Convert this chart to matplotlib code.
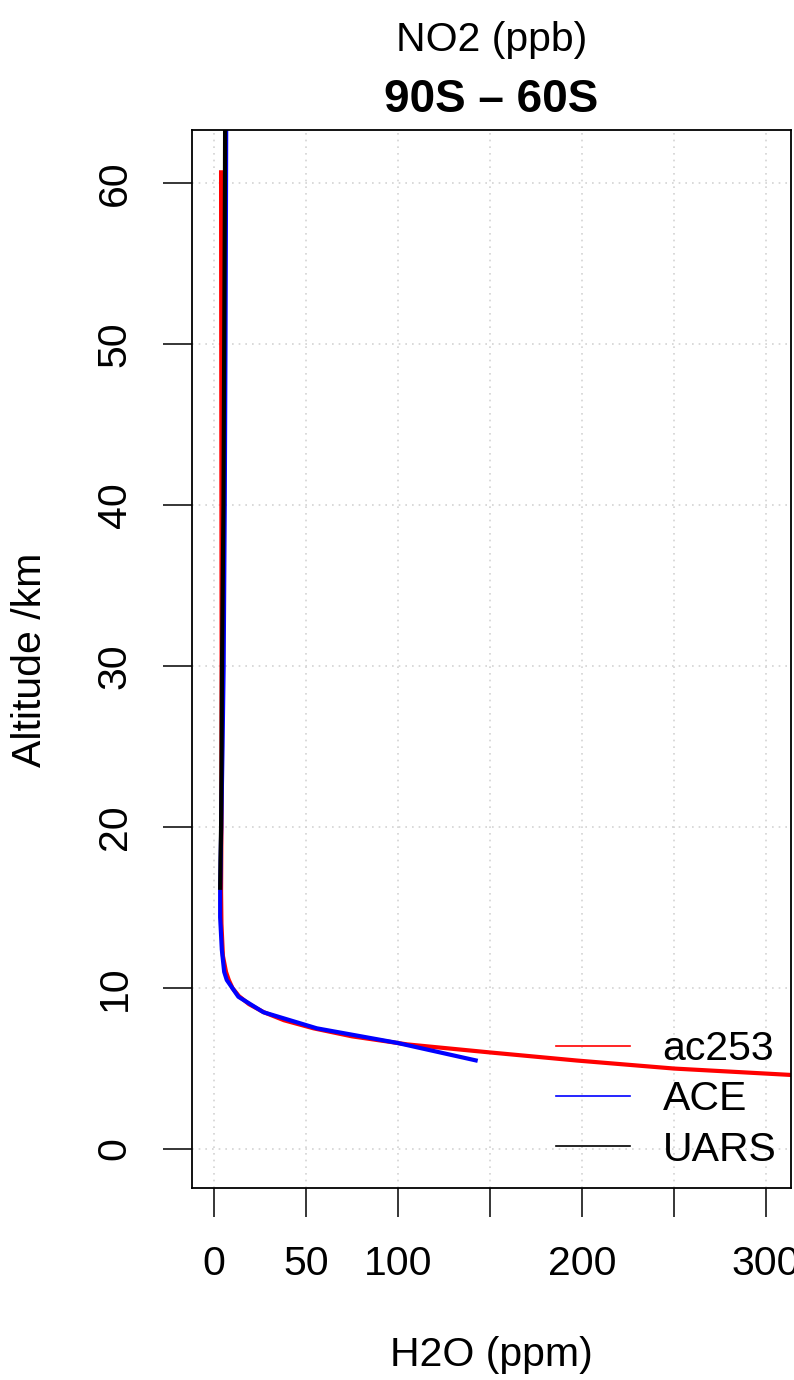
import matplotlib
matplotlib.use("Agg")
import matplotlib.pyplot as plt
from matplotlib.lines import Line2D

plt.rcParams['font.family'] = ['Liberation Sans', 'DejaVu Sans']

# ---- data ----
ac253_alt = [60.8, 50, 40, 30, 20, 16, 14, 12, 11, 10.5, 10, 9.5, 9, 8.5, 8, 7.5, 7, 6.5, 6, 5.5, 5, 4.6, 4.0, 3.5]
ac253_h2o = [3.8, 3.9, 4.0, 4.1, 4.0, 3.8, 4.0, 4.8, 6.5, 8.0, 10.0, 13.5, 19, 27, 38, 54, 75, 105, 150, 197, 250, 314, 420, 520]

ace_alt = [64, 60, 50, 40, 30, 25, 20, 16, 14.4, 12.4, 11, 10.5, 9.46, 8.5, 7.5, 6.6, 5.48]
ace_h2o = [6.6, 6.5, 6.2, 5.8, 5.2, 4.6, 3.9, 3.3, 3.3, 4.2, 5.5, 6.9, 13.2, 26.8, 55.8, 99.3, 143.3]

uars_alt = [16.1, 18, 20, 25, 30, 40, 50, 60, 64]
uars_h2o = [3.3, 3.5, 3.8, 4.1, 4.3, 5.1, 5.5, 5.9, 6.0]

series_names = ['ac253', 'ACE', 'UARS']
series_colors = ['#FF0000', '#0000FF', '#000000']

xticks = [0, 50, 100, 150, 200, 250, 300]
xticklabels = ['0', '50', '100', '', '200', '', '300']
yticks = [0, 10, 20, 30, 40, 50, 60]

title_top = 'NO2 (ppb)'
title_main = '90S \u2013 60S'
xlabel = 'H2O (ppm)'
ylabel = 'Altitude /km'

# ---- figure ----
W, H = 794, 1380
dpi = 100
fig = plt.figure(figsize=(W / dpi, H / dpi), dpi=dpi)
L, R, T, B = 192, 791, 130, 1188
ax = fig.add_axes([L / W, 1 - B / H, (R - L) / W, (B - T) / H])

ax.set_xlim(-12, 313.6)
ax.set_ylim(-2.42, 63.3)

for xv in xticks:
    ax.axvline(xv, color='#D3D3D3', lw=1.2, ls=(0, (1, 3)), zorder=0)
for yv in yticks:
    ax.axhline(yv, color='#D3D3D3', lw=1.2, ls=(0, (1, 3)), zorder=0)

lw = 3.0
ax.plot(ac253_h2o, ac253_alt, color=series_colors[0], lw=lw, solid_capstyle='butt')
ax.plot(ace_h2o, ace_alt, color=series_colors[1], lw=lw, solid_capstyle='butt')
ax.plot(uars_h2o, uars_alt, color=series_colors[2], lw=lw, solid_capstyle='butt')

fs = 29.5
ax.set_xticks(xticks)
ax.set_xticklabels(xticklabels, fontsize=fs)
ax.set_yticks(yticks)
ax.set_yticklabels([str(v) for v in yticks], fontsize=fs, rotation=90, va='center')
ax.tick_params(axis='both', length=21, width=1.1, direction='out')
ax.tick_params(axis='x', pad=20)
ax.tick_params(axis='y', pad=21)
for s in ax.spines.values():
    s.set_linewidth(1.3)

handles = [Line2D([0], [0], color=c, lw=1.2) for c in series_colors]
leg = ax.legend(handles, series_names, loc='upper left', frameon=False,
                bbox_to_anchor=(556 / W, 1 - 1030 / H), bbox_transform=fig.transFigure,
                fontsize=fs, handlelength=1.8, handletextpad=0.8, borderpad=0,
                borderaxespad=0, labelspacing=0.3)

cx = (L + R) / 2 / W
fig.text(cx, 1 - 40 / H, title_top, ha='center', va='center', fontsize=fs)
fig.text(cx, 1 - 100 / H, title_main, ha='center', va='center', fontsize=33, fontweight='bold')
fig.text(cx, 1 - 1355 / H, xlabel, ha='center', va='center', fontsize=fs)
fig.text(30 / W, 1 - 660 / H, ylabel, ha='center', va='center', fontsize=fs, rotation=90)

fig.savefig('out.png', dpi=dpi)
